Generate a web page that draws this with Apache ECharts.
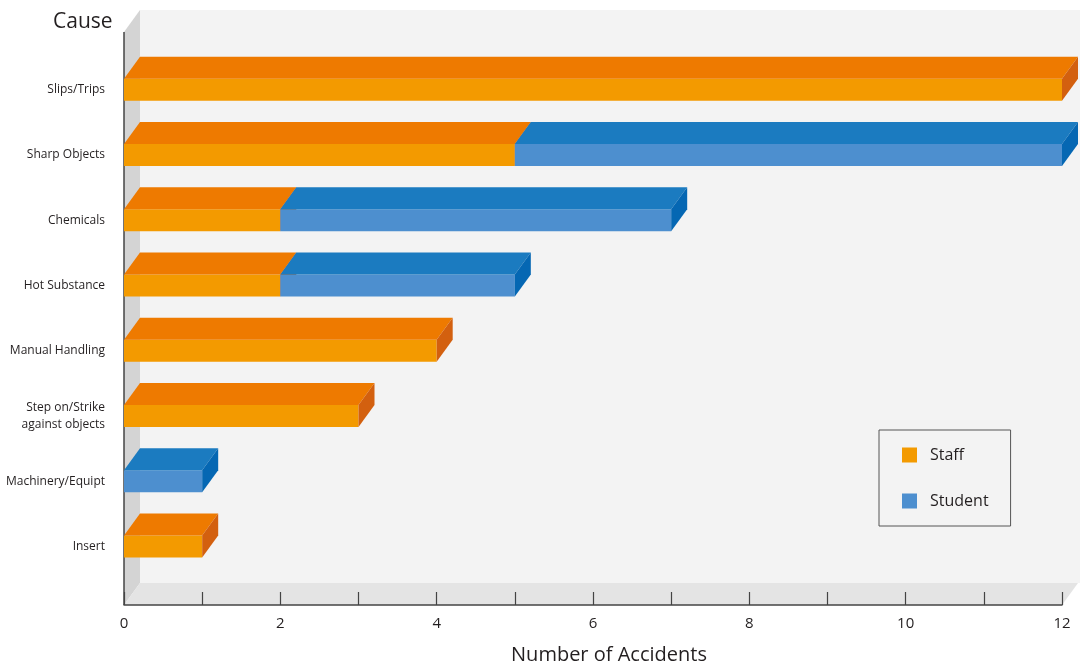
<!DOCTYPE html>
<html><head><meta charset="utf-8">
<script src="https://cdn.jsdelivr.net/npm/echarts@6/dist/echarts.min.js"></script>
<style>html,body{margin:0;padding:0;background:#fff}#c{width:1080px;height:670px}</style>
</head><body><div id="c"></div>
<script>
var categories = ['Slips/Trips','Sharp Objects','Chemicals','Hot Substance','Manual Handling','Step on/Strike\nagainst objects','Machinery/Equipt','Insert'];
var staff   = [12, 5, 2, 2, 4, 3, 0, 1];
var student = [0, 7, 5, 3, 0, 0, 1, 0];
var xTicks = [0, 2, 4, 6, 8, 10, 12];

var DX = 16, DY = 22, BAR_H = 22;
var FONT = '"Open Sans", "Noto Sans", sans-serif';
var colors = {
  Staff:   {front:'#f39a00', top:'#ee7a00', side:'#d3600f'},
  Student: {front:'#4d8fcf', top:'#1b7bc0', side:'#0567b3'}
};

function barData(vals, base) {
  return vals.map(function (v, i) { return [v, i, base ? base[i] : 0]; });
}

function renderBar(name) {
  return function (params, api) {
    var v = api.value(0), cat = api.value(1), start = api.value(2);
    if (!v) return null;
    var p0 = api.coord([start, cat]);
    var p1 = api.coord([start + v, cat]);
    var c = p0[1], t = c - BAR_H / 2, b = c + BAR_H / 2;
    var col = colors[name];
    return {
      type: 'group',
      children: [
        {type:'rect', shape:{x:p0[0], y:t, width:p1[0]-p0[0], height:BAR_H}, style:{fill:col.front}},
        {type:'polygon', shape:{points:[[p0[0],t],[p0[0]+DX,t-DY],[p1[0]+DX,t-DY],[p1[0],t]]}, style:{fill:col.top}},
        {type:'polygon', shape:{points:[[p1[0],t],[p1[0]+DX,t-DY],[p1[0]+DX,b-DY],[p1[0],b]]}, style:{fill:col.side}}
      ]
    };
  };
}

function renderWalls(params, api) {
  var cs = params.coordSys;
  var x0 = cs.x, x1 = cs.x + cs.width;
  var top = cs.y - 47;
  var fb = cs.y + cs.height + 26;
  return {
    type: 'group',
    children: [
      {type:'rect', shape:{x:x0+DX, y:top, width:cs.width+DX, height:fb-DY-top}, style:{fill:'#f3f3f3'}},
      {type:'polygon', shape:{points:[[x0,top+DY],[x0+DX,top],[x0+DX,fb-DY],[x0,fb]]}, style:{fill:'#d4d4d4'}},
      {type:'polygon', shape:{points:[[x0,fb],[x0+DX,fb-DY],[x1+DX,fb-DY],[x1,fb]]}, style:{fill:'#e4e4e4'}},
      {type:'line', shape:{x1:x0, y1:top+DY, x2:x0, y2:fb}, style:{stroke:'#444', lineWidth:1.5}}
    ]
  };
}

var staffStart = staff.map(function(){return 0;});
var chart = echarts.init(document.getElementById('c'));
chart.setOption({
  backgroundColor: '#ffffff',
  animation: false,
  textStyle: {fontFamily: FONT},
  title: {text: 'Cause', left: 48, top: 7, textStyle: {fontFamily: FONT, fontSize: 21, fontWeight: 'normal', color: '#231f20'}},
  grid: {left: 124, right: 18, top: 57, bottom: 89},
  xAxis: {
    type: 'value', min: 0, max: 12, interval: 1, offset: 26,
    name: 'Number of Accidents', nameLocation: 'middle', nameGap: 40,
    nameTextStyle: {fontFamily: FONT, fontSize: 20, color: '#231f20', padding: [0, 0, 0, 32]},
    axisLine: {show: true, lineStyle: {color: '#444', width: 1.5}},
    axisTick: {show: true, inside: true, length: 13, lineStyle: {color: '#444', width: 1.2}},
    axisLabel: {margin: 11, fontSize: 15, color: '#231f20', fontFamily: FONT,
      formatter: function (v) { return xTicks.indexOf(v) >= 0 ? String(v) : ''; }},
    splitLine: {show: false}
  },
  yAxis: {
    type: 'category', data: categories, inverse: true,
    axisLine: {show: false}, axisTick: {show: false},
    axisLabel: {margin: 19, fontSize: 12, color: '#231f20', fontFamily: FONT, align: 'right', lineHeight: 17}
  },
  legend: {
    data: ['Staff', 'Student'], orient: 'vertical', left: 879, top: 430,
    itemWidth: 15, itemHeight: 15, itemGap: 30, icon: 'rect',
    padding: [17, 22, 17, 23], borderColor: '#555', borderWidth: 1,
    backgroundColor: '#f3f3f3',
    textStyle: {fontFamily: FONT, fontSize: 16, color: '#231f20', padding: [0, 0, 0, 8]}
  },
  series: [
    {type: 'custom', name: 'walls', data: [[0, 0, 0]], renderItem: renderWalls, silent: true, z: 0, encode: {x: 0, y: 1}},
    {type: 'custom', name: 'Staff', data: barData(staff, staffStart), renderItem: renderBar('Staff'), itemStyle: {color: colors.Staff.front}, encode: {x: 0, y: 1}, z: 2},
    {type: 'custom', name: 'Student', data: barData(student, staff), renderItem: renderBar('Student'), itemStyle: {color: colors.Student.front}, encode: {x: 0, y: 1}, z: 3}
  ]
});
</script></body></html>
